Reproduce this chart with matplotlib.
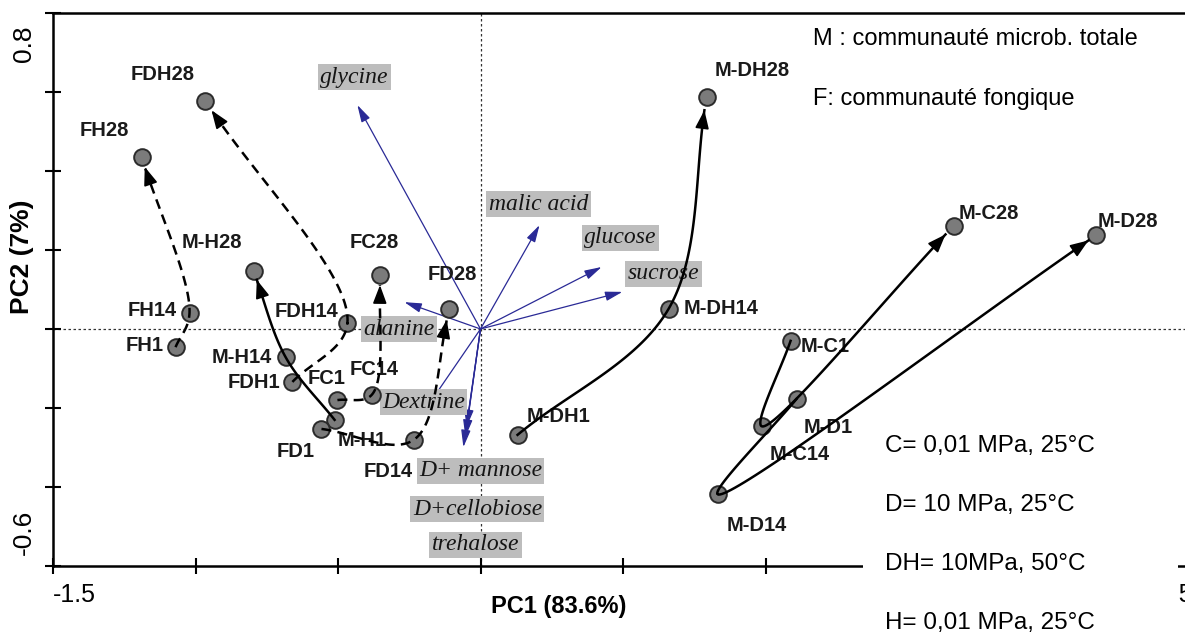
import numpy as np
import matplotlib

matplotlib.use("Agg")
import matplotlib.pyplot as plt  # noqa: E402
from matplotlib.patches import Rectangle  # noqa: E402
from matplotlib.transforms import ScaledTranslation  # noqa: E402

plt.rcParams["font.family"] = ["Liberation Sans", "DejaVu Sans"]

# --- data -------------------------------------------------------------------
sample_names = ["M-C1", "M-C14", "M-C28", "M-D1", "M-D14", "M-D28",
                "M-DH1", "M-DH14", "M-DH28", "M-H1", "M-H14", "M-H28",
                "FC1", "FC14", "FC28", "FD1", "FD14", "FD28",
                "FDH1", "FDH14", "FDH28", "FH1", "FH14", "FH28"]
pc1 = [1.088, 0.986, 1.660, 1.109, 0.832, 2.161,
       0.130, 0.660, 0.793, -0.512, -0.684, -0.796,
       -0.502, -0.382, -0.351, -0.558, -0.235, -0.109,
       -0.660, -0.467, -0.965, -1.070, -1.021, -1.189]
pc2 = [-0.030, -0.246, 0.261, -0.177, -0.418, 0.238,
       -0.268, 0.051, 0.587, -0.230, -0.071, 0.147,
       -0.180, -0.167, 0.137, -0.253, -0.281, 0.051,
       -0.134, 0.015, 0.577, -0.046, 0.041, 0.435]

# trajectories day 1 -> 14 -> 28
groups = ["M-C", "M-D", "M-DH", "M-H", "FC", "FD", "FDH", "FH"]
days = ["1", "14", "28"]

loading_names = ["glycine", "malic acid", "glucose", "sucrose", "alanine",
                 "Dextrine", "D+ mannose", "D+cellobiose", "trehalose"]
load_pc1 = [-0.432, 0.207, 0.425, 0.498, -0.267, -0.190, -0.049, -0.060, -0.053]
load_pc2 = [0.567, 0.263, 0.157, 0.094, 0.068, -0.200, -0.248, -0.299, -0.273]

x_ticks = [-1.5, -1.0, -0.5, 0.0, 0.5, 1.0, 1.5, 2.0, 2.5]
y_ticks = [-0.6, -0.4, -0.2, 0.0, 0.2, 0.4, 0.6, 0.8]

# --- layout (label offsets in pixels) ---------------------------------------
sample_label_off = {
    "FDH28": (-43, 27), "FH28": (-37, 27), "M-H28": (-42, 28), "FC28": (-6, 32),
    "FD28": (3, 34), "FH14": (-37, 2), "FH1": (-31, 2), "FDH14": (-41, 12),
    "M-H14": (-44, 0), "FDH1": (-38, -1), "FC1": (-11, 22), "FC14": (2, 25),
    "M-H1": (28, -21), "FD1": (-26, -23), "FD14": (-25, -32), "M-DH1": (41, 18),
    "M-DH14": (52, 0), "M-DH28": (46, 27), "M-C28": (35, 12), "M-D28": (31, 13),
    "M-C1": (35, -6), "M-D1": (32, -29), "M-C14": (38, -28), "M-D14": (39, -31),
}
loading_label_off = {
    "glycine": (-3, 28), "malic acid": (-1, 21), "glucose": (19, 29),
    "sucrose": (41, 18), "alanine": (-5, -27), "Dextrine": (-3, 6),
    "D+ mannose": (14, -44), "D+cellobiose": (14, -62), "trehalose": (10, -108),
}

W, H, DPI = 1185, 632, 100
fig = plt.figure(figsize=(W / DPI, H / DPI), dpi=DPI)
ax = fig.add_axes([53 / W, 1 - 566 / H, 1140 / W, 553 / H])
ax.set_xlim(x_ticks[0], x_ticks[-1])
ax.set_ylim(y_ticks[0], y_ticks[-1])

for side in ["left", "bottom", "top"]:
    ax.spines[side].set_linewidth(1.8)
ax.spines["right"].set_visible(False)

ax.set_xticks(x_ticks)
ax.set_xticklabels([f"{x_ticks[0]:g}"] + [""] * (len(x_ticks) - 2) + [f"{x_ticks[-1]:g}"])
ax.set_yticks(y_ticks)
ax.set_yticklabels([f"{y_ticks[0]:g}"] + [""] * (len(y_ticks) - 2) + [f"{y_ticks[-1]:g}"],
                   rotation=90)
ax.tick_params(direction="inout", length=11, width=1.5, pad=7)
ax.tick_params(axis="x", labelsize=18)
ax.tick_params(axis="y", labelsize=19)
xl = ax.get_xticklabels()
xl[0].set_ha("left")
xl[-1].set_ha("right")
yl = ax.get_yticklabels()
yl[0].set_va("bottom")
yl[0].set_transform(yl[0].get_transform() + ScaledTranslation(0, 11 / DPI, fig.dpi_scale_trans))
yl[-1].set_va("top")
yl[-1].set_transform(yl[-1].get_transform() + ScaledTranslation(0, -12 / DPI, fig.dpi_scale_trans))

ax.set_xlabel("PC1 (83.6%)", fontsize=17, fontweight="bold")
ax.xaxis.set_label_coords((559 - 53) / 1140, (566 - 607) / 553)
ax.xaxis.label.set_va("center")
ax.set_ylabel("PC2 (7%)", fontsize=19, fontweight="bold")
ax.yaxis.set_label_coords((22 - 53) / 1140, (566 - 257) / 553)
ax.yaxis.label.set_va("center")

ax.axhline(0, color="#333333", lw=0.9, ls=(0, (2, 2)), zorder=1)
ax.axvline(0, color="#333333", lw=0.9, ls=(0, (2, 2)), zorder=1)

# loadings
for name, lx, ly in zip(loading_names, load_pc1, load_pc2):
    ax.annotate("", xy=(lx, ly), xytext=(0, 0),
                arrowprops=dict(arrowstyle="-|>,head_length=0.8,head_width=0.22",
                                color="#2a2a96", lw=0.9, mutation_scale=13,
                                shrinkA=0, shrinkB=0), zorder=2)
    ax.annotate(name, xy=(lx, ly), xytext=loading_label_off[name],
                textcoords="offset pixels", ha="center", va="center",
                family="Liberation Serif", style="italic", fontsize=17, color="#151515",
                bbox=dict(boxstyle="square,pad=0.1", fc="#bdbdbd", ec="none"), zorder=3)

# samples
ax.scatter(pc1, pc2, s=12 ** 2, facecolor="#7b7b7b", edgecolor="#2b2b2b",
           linewidth=1.4, zorder=4)
for name, x, y in zip(sample_names, pc1, pc2):
    ax.annotate(name, xy=(x, y), xytext=sample_label_off[name], textcoords="offset pixels",
                ha="center", va="center", fontsize=14.5, fontweight="bold",
                color="#1a1a1a", zorder=4.5)


def cr_segment(p0, p1, p2, p3, n=50, alpha=0.5):
    t0 = 0.0
    t1 = t0 + max(np.linalg.norm(p1 - p0), 1e-6) ** alpha
    t2 = t1 + max(np.linalg.norm(p2 - p1), 1e-6) ** alpha
    t3 = t2 + max(np.linalg.norm(p3 - p2), 1e-6) ** alpha
    t = np.linspace(t1, t2, n)[:, None]
    a1 = (t1 - t) / (t1 - t0) * p0 + (t - t0) / (t1 - t0) * p1
    a2 = (t2 - t) / (t2 - t1) * p1 + (t - t1) / (t2 - t1) * p2
    a3 = (t3 - t) / (t3 - t2) * p2 + (t - t2) / (t3 - t2) * p3
    b1 = (t2 - t) / (t2 - t0) * a1 + (t - t0) / (t2 - t0) * a2
    b2 = (t3 - t) / (t3 - t1) * a2 + (t - t1) / (t3 - t1) * a3
    return (t2 - t) / (t2 - t1) * b1 + (t - t1) / (t2 - t1) * b2


def smooth_path(pts):
    ext = [2 * pts[0] - pts[1], *pts, 2 * pts[-1] - pts[-2]]
    return np.vstack([cr_segment(*ext[i:i + 4]) for i in range(len(pts) - 1)])


inv = ax.transData.inverted()
lookup = {n: (x, y) for n, x, y in zip(sample_names, pc1, pc2)}
for g in groups:
    pts = ax.transData.transform([lookup[g + d] for d in days])
    curve = smooth_path(pts)
    dist = np.hypot(*(curve - pts[-1]).T)
    curve = curve[: np.nonzero(dist >= 9)[0].max() + 1]
    seg = np.hypot(*np.diff(curve, axis=0).T)
    j = np.searchsorted(np.cumsum(seg[::-1]), 12)
    back = curve[-(j + 2)]
    data = inv.transform(curve)
    dashed = not g.startswith("M")
    ax.plot(data[:, 0], data[:, 1], color="black", lw=1.8,
            ls=(0, (4, 2.5)) if dashed else "-", zorder=5)
    ax.annotate("", xy=inv.transform(curve[-1]), xytext=inv.transform(back),
                arrowprops=dict(arrowstyle="-|>,head_length=0.8,head_width=0.3",
                                color="black", lw=1.2, mutation_scale=14,
                                shrinkA=0, shrinkB=0), zorder=6)

# legend notes
fig.text(813 / W, 1 - 39 / H, "M : communauté microb. totale", fontsize=17, va="center")
fig.text(813 / W, 1 - 99 / H, "F: communauté fongique", fontsize=17, va="center")
fig.add_artist(Rectangle((863 / W, 0), (1178 - 863) / W, (H - 423) / H,
                         transform=fig.transFigure, facecolor="white",
                         edgecolor="none", zorder=5))
conditions = ["C= 0,01 MPa, 25°C", "D= 10 MPa, 25°C", "DH= 10MPa, 50°C", "H= 0,01 MPa, 25°C"]
for k, txt in enumerate(conditions):
    fig.text(885 / W, 1 - (446 + 59 * k) / H, txt, fontsize=17.5, va="center", zorder=6)

fig.savefig("out.png", dpi=DPI)
